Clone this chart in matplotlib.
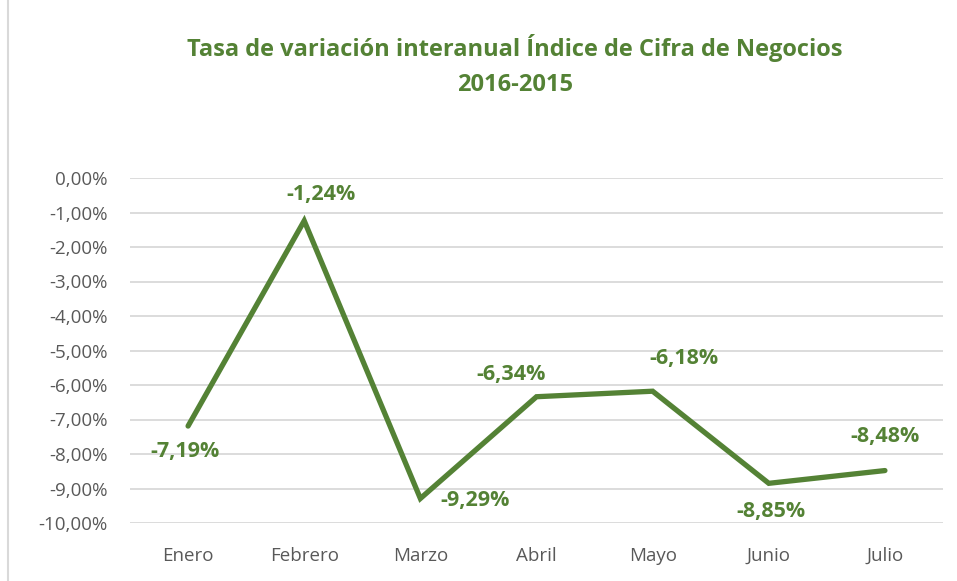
import matplotlib.pyplot as plt
from matplotlib.patches import Rectangle

months = ['Enero', 'Febrero', 'Marzo', 'Abril', 'Mayo', 'Junio', 'Julio']
values = [-7.19, -1.24, -9.29, -6.34, -6.18, -8.85, -8.48]
# label offsets in pixels (dx, dy) relative to each point
offsets = [(-3, -25), (17, 26), (55, -2), (-25, 22), (31, 33), (2, -28), (0, 34)]

green = '#548235'
gray = '#595959'

plt.rcParams['font.family'] = ['Open Sans', 'DejaVu Sans']

fig = plt.figure(figsize=(9.57, 5.81), dpi=100)
ax = fig.add_axes([130 / 957, 1 - 523 / 581, 813 / 957, 345 / 581])

x = list(range(len(months)))
ax.plot(x, values, color=green, linewidth=3.8, solid_capstyle='round', solid_joinstyle='miter', zorder=3)

for xi, v, (dx, dy) in zip(x, values, offsets):
    ax.annotate(f'{v:.2f}%'.replace('.', ','), (xi, v), xytext=(dx, dy),
                textcoords='offset pixels', ha='center', va='center',
                color=green, fontsize=15.5, fontweight='bold', zorder=4)

ax.set_xlim(-0.5, len(months) - 0.5)
ax.set_ylim(-10, 0)
ax.set_yticks(range(-10, 1))
ax.set_yticklabels([f'{t},00%' for t in range(-10, 1)])
ax.set_xticks(x)
ax.set_xticklabels(months)
ax.tick_params(length=0, colors=gray, labelsize=13.5)
ax.tick_params(axis='y', pad=16)
ax.tick_params(axis='x', pad=17)
ax.grid(axis='y', color='#D9D9D9', linewidth=1.3)
ax.set_axisbelow(True)
for s in ax.spines.values():
    s.set_visible(False)

fig.text(515 / 957, 1 - 48 / 581, 'Tasa de variación interanual Índice de Cifra de Negocios',
         ha='center', va='center', color=green, fontsize=17, fontweight='bold')
fig.text(515 / 957, 1 - 85 / 581, '2016-2015',
         ha='center', va='center', color=green, fontsize=17, fontweight='bold')

fig.patches.append(Rectangle((8 / 957, -0.01), 1.2, 1.2, transform=fig.transFigure,
                             fill=False, edgecolor='#D9D9D9', linewidth=1.5))

fig.savefig('out.png', dpi=100)
